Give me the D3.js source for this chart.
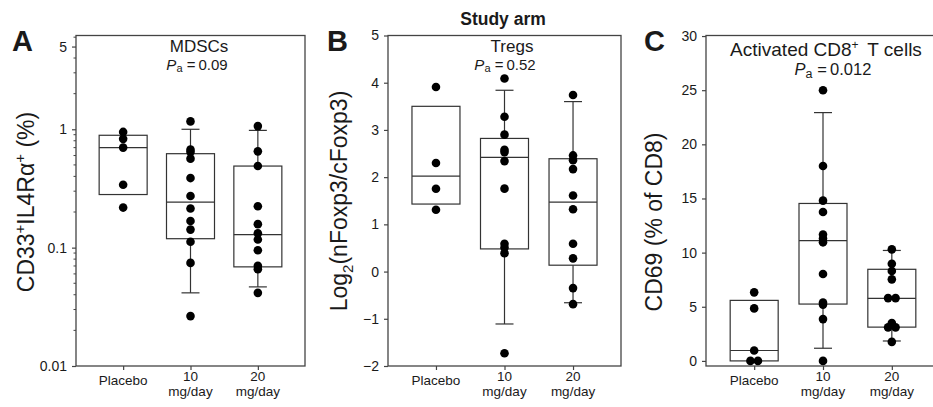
<!DOCTYPE html>
<html>
<head>
<meta charset="utf-8">
<script src="https://cdn.jsdelivr.net/npm/d3@7"></script>
<style>
  body { margin: 0; background: #fff; }
  text { font-family: "Liberation Sans", Arial, sans-serif; fill: #1a1a1a; }
</style>
</head>
<body>
<script>
var svgWidth = 933;
var svgHeight = 407;

var groups = ["Placebo", "10 mg/day", "20 mg/day"];
var groupLabels = [["Placebo"], ["10", "mg/day"], ["20", "mg/day"]];

var panelLetters = ["A", "B", "C"];
var panelTitles = ["MDSCs", "Tregs", "Activated CD8"];
var pValues = ["0.09", "0.52", "0.012"];

// panel A - MDSCs, log scale
var mdscPoints = [
  [0.95, 0.83, 0.70, 0.34, 0.218],
  [1.166, 0.673, 0.643, 0.565, 0.387, 0.273, 0.214, 0.168, 0.142, 0.112, 0.0743, 0.0264],
  [1.064, 0.651, 0.489, 0.224, 0.158, 0.132, 0.117, 0.095, 0.0702, 0.0658, 0.0415]
];
var mdscBoxes = [[0.281, 0.70, 0.89], [0.119, 0.242, 0.622], [0.0688, 0.129, 0.489]];
var mdscWhiskers = [null, [0.0415, 1.0], [0.0466, 0.979]];
var mdscTicks = [0.01, 0.1, 1, 5];

// panel B - Tregs
var tregPoints = [
  [3.91, 2.30, 1.755, 1.31],
  [4.09, 3.28, 2.90, 2.58, 2.53, 2.34, 1.756, 0.59, 0.51, 0.39, -1.73],
  [3.74, 2.46, 2.36, 2.17, 1.61, 1.32, 0.59, 0.28, -0.35, -0.69]
];
var tregBoxes = [[1.43, 2.02, 3.50], [0.48, 2.42, 2.82], [0.135, 1.47, 2.39]];
var tregWhiskers = [null, [-1.11, 3.84], [-0.66, 3.60]];
var tregTicks = [-2, -1, 0, 1, 2, 3, 4, 5];

// panel C - activated CD8+ T cells
var cd69Points = [
  [6.33, 4.85, 0.96, 0, 0],
  [25.0, 18.0, 14.8, 13.75, 11.67, 11.3, 10.95, 8.03, 5.40, 5.2, 3.86, 0],
  [10.3, 8.97, 8.3, 7.53, 5.8, 5.8, 3.5, 3.1, 3.1, 1.76]
];
var cd69Boxes = [[0, 0.96, 5.59], [5.25, 11.11, 14.54], [3.12, 5.77, 8.46]];
var cd69Whiskers = [null, [1.17, 22.93], [1.84, 10.2]];
var cd69Ticks = [0, 5, 10, 15, 20, 25, 30];

var panels = [
  { left: 76, right: 305, log: true, domain: [0.01, 6.2], ticks: mdscTicks,
    points: mdscPoints, boxes: mdscBoxes, whiskers: mdscWhiskers,
    titleX: 199, titleY: 52, titleSize: 17, pX: 197, pY: 69.5, pSize: 15,
    letterX: 12, titleTxt: 34, titleMid: 202,
    yTitle: [["CD33", 0], ["+", 1], ["IL4R", 0], ["\u03b1", 0], ["+", 1], [" (%)", 0]] },
  { left: 388, right: 621, log: false, domain: [-2, 5], ticks: tregTicks,
    points: tregPoints, boxes: tregBoxes, whiskers: tregWhiskers,
    titleX: 512, titleY: 52, titleSize: 17, pX: 505, pY: 69.5, pSize: 15,
    letterX: 327, titleTxt: 347, titleMid: 201,
    yTitle: [["Log", 0], ["2", -1], ["(nFoxp3/cFoxp3)", 0]] },
  { left: 706, right: 940, log: false, domain: [-0.47, 30.05], ticks: cd69Ticks,
    points: cd69Points, boxes: cd69Boxes, whiskers: cd69Whiskers,
    titleX: 826, titleY: 55.5, titleSize: 19, pX: 833, pY: 75, pSize: 16.5,
    letterX: 644, titleTxt: 662, titleMid: 222,
    yTitle: [["CD69 (% of CD8)", 0]] }
];

var plotTop = 35.5;
var plotBot = 366;
var boxW = 48;
var capW = 9;

var svg = d3.select("body")
  .append("svg")
  .attr("width", svgWidth)
  .attr("height", svgHeight);

svg.append("text")
  .attr("x", 503)
  .attr("y", 25)
  .attr("text-anchor", "middle")
  .style("font-weight", "bold")
  .style("font-size", "17.5px")
  .text("Study arm");

panels.forEach(function(p, i) {
  var g = svg.append("g");

  var x = d3.scalePoint()
    .domain(groups)
    .range([p.left, p.right])
    .padding(0.7);

  var y = (p.log ? d3.scaleLog() : d3.scaleLinear())
    .domain(p.domain)
    .range([plotBot, plotTop]);

  g.append("rect")
    .attr("x", p.left)
    .attr("y", plotTop)
    .attr("width", p.right - p.left)
    .attr("height", plotBot - plotTop)
    .attr("fill", "none")
    .attr("stroke", "#444")
    .attr("stroke-width", 1.3);

  // y axis
  var yAxis = d3.axisLeft(y)
    .tickValues(p.ticks)
    .tickSize(4)
    .tickPadding(5)
    .tickFormat(function(d) { return p.log ? String(d) : d3.format("d")(d); });

  var ya = g.append("g")
    .attr("transform", `translate(${p.left},0)`)
    .call(yAxis);
  ya.select(".domain").remove();
  ya.selectAll("line").attr("stroke", "#444").attr("stroke-width", 1.2);
  ya.selectAll("text")
    .style("font-size", "14px")
    .style("font-family", "'Liberation Sans', Arial, sans-serif")
    .attr("fill", "#1a1a1a");

  if (p.log) {
    var minor = [];
    [0.01, 0.1, 1].forEach(function(dec) {
      for (var k = 2; k <= 9; k++) {
        var v = dec * k;
        if (v < p.domain[1] && p.ticks.indexOf(+v.toPrecision(3)) < 0) minor.push(v);
      }
    });
    g.selectAll(".minor")
      .data(minor)
      .enter()
      .append("line")
      .attr("x1", p.left - 2.5)
      .attr("x2", p.left)
      .attr("y1", d => y(d))
      .attr("y2", d => y(d))
      .attr("stroke", "#444")
      .attr("stroke-width", 1);
  }

  // x axis ticks
  var xAxis = d3.axisBottom(x).tickSize(4).tickFormat("");
  var xa = g.append("g")
    .attr("transform", `translate(0,${plotBot})`)
    .call(xAxis);
  xa.select(".domain").remove();
  xa.selectAll("line").attr("stroke", "#444").attr("stroke-width", 1.2);

  groups.forEach(function(grp, j) {
    groupLabels[j].forEach(function(line, k) {
      g.append("text")
        .attr("x", x(grp))
        .attr("y", groupLabels[j].length == 1 ? 385 : 380.5 + k * 15.5)
        .attr("text-anchor", "middle")
        .style("font-size", "13.5px")
        .text(line);
    });
  });

  // boxes and whiskers
  groups.forEach(function(grp, j) {
    var w = p.whiskers[j];
    var b = p.boxes[j];
    var cx = x(grp);
    if (w) {
      g.append("line").attr("x1", cx).attr("x2", cx)
        .attr("y1", y(w[1])).attr("y2", y(b[2]))
        .attr("stroke", "#333").attr("stroke-width", 1.2);
      g.append("line").attr("x1", cx).attr("x2", cx)
        .attr("y1", y(b[0])).attr("y2", y(w[0]))
        .attr("stroke", "#333").attr("stroke-width", 1.2);
      w.forEach(function(v) {
        g.append("line").attr("x1", cx - capW).attr("x2", cx + capW)
          .attr("y1", y(v)).attr("y2", y(v))
          .attr("stroke", "#333").attr("stroke-width", 1.2);
      });
    }
    g.append("rect")
      .attr("x", cx - boxW / 2)
      .attr("y", y(b[2]))
      .attr("width", boxW)
      .attr("height", y(b[0]) - y(b[2]))
      .attr("fill", "none")
      .attr("stroke", "#333")
      .attr("stroke-width", 1.2);
    g.append("line")
      .attr("x1", cx - boxW / 2).attr("x2", cx + boxW / 2)
      .attr("y1", y(b[1])).attr("y2", y(b[1]))
      .attr("stroke", "#333").attr("stroke-width", 1.2);
  });

  // points, equal values are spread sideways
  groups.forEach(function(grp, j) {
    var vals = p.points[j];
    var pts = vals.map(function(v, k) {
      var same = vals.filter(u => u === v).length;
      var idx = vals.slice(0, k).filter(u => u === v).length;
      return { v: v, dx: same > 1 ? (idx - (same - 1) / 2) * 7.5 : 0 };
    });
    g.selectAll(".pt" + j)
      .data(pts)
      .enter()
      .append("circle")
      .attr("cx", d => x(grp) + d.dx)
      .attr("cy", d => y(d.v))
      .attr("r", 4.3)
      .attr("fill", "#000");
  });

  // titles
  var t = g.append("text")
    .attr("x", p.titleX)
    .attr("y", p.titleY)
    .attr("text-anchor", "middle")
    .style("font-size", p.titleSize + "px")
    .text(panelTitles[i]);
  if (i == 2) {
    t.append("tspan").attr("dy", -7).style("font-size", "12px").text("+");
    t.append("tspan").attr("dy", 7).text("\u2009 T cells");
  }

  var pt = g.append("text")
    .attr("x", p.pX)
    .attr("y", p.pY)
    .attr("text-anchor", "middle")
    .style("font-size", p.pSize + "px");
  pt.append("tspan").style("font-style", "italic").text("P");
  pt.append("tspan").attr("dy", 2.5).style("font-size", (p.pSize - 4) + "px").text("a");
  pt.append("tspan").attr("dy", -2.5).text(" =\u20090" + pValues[i].slice(1));

  g.append("text")
    .attr("x", p.letterX)
    .attr("y", 51)
    .style("font-weight", "bold")
    .style("font-size", "29px")
    .text(panelLetters[i]);

  var yt = g.append("text")
    .attr("transform", `translate(${p.titleTxt},${p.titleMid}) rotate(-90)`)
    .attr("text-anchor", "middle")
    .style("font-size", "23px");
  var shift = 0;
  p.yTitle.forEach(function(part) {
    var target = part[1] == 1 ? -9 : part[1] == -1 ? 6 : 0;
    yt.append("tspan")
      .attr("dy", target - shift)
      .style("font-size", part[1] != 0 ? "15px" : null)
      .text(part[0]);
    shift = target;
  });
});
</script>
</body>
</html>
